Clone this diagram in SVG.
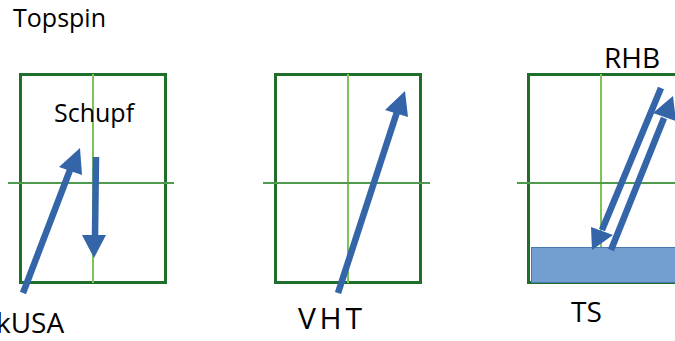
<svg xmlns="http://www.w3.org/2000/svg" width="675" height="341" viewBox="0 0 675 341">
<style>
.tbl{fill:none;stroke:#1f6e2a;stroke-width:3}
.vl{stroke:#7cc45a;stroke-width:2}
.hl{stroke:#4f9a4f;stroke-width:2}
.arr{fill:none;stroke:#3465a8;stroke-width:6.5}
.head{fill:#3465a8}
text{font-family:"Open Sans","Noto Sans",sans-serif;fill:#000}
</style>
<rect width="675" height="341" fill="#fff"/>
<g id="table1">
<rect class="tbl" x="20.5" y="74.5" width="145" height="208"/>
<line class="vl" x1="93" y1="74" x2="93" y2="283"/>
<line class="hl" x1="8" y1="183" x2="174" y2="183"/>
</g>
<g id="table2">
<rect class="tbl" x="275.5" y="74.5" width="145" height="208"/>
<line class="vl" x1="348" y1="74" x2="348" y2="283"/>
<line class="hl" x1="263" y1="183" x2="430" y2="183"/>
</g>
<g id="table3">
<rect class="tbl" x="528.5" y="74.5" width="160" height="208"/>
<line class="vl" x1="601" y1="74" x2="601" y2="283"/>
<line class="hl" x1="517" y1="183" x2="675" y2="183"/>
<rect id="ts-zone" x="531.5" y="247.5" width="150" height="35" fill="#729fcf" stroke="#4a78b0" stroke-width="1"/>
</g>
<g id="connectors">
<line class="arr" x1="23" y1="293" x2="70" y2="170"/>
<polygon class="head" points="80,148 59,167 82,175"/>
<line class="arr" x1="96" y1="157" x2="95" y2="236"/>
<polygon class="head" points="94,258 82,235 106,235"/>
<line class="arr" x1="338" y1="293" x2="397" y2="112"/>
<polygon class="head" points="405,91 385,110 408,117"/>
<line class="arr" x1="661" y1="88" x2="602" y2="230"/>
<polygon class="head" points="592,250 591,227 613,235"/>
<line class="arr" x1="611" y1="250" x2="664" y2="118"/>
<polygon class="head" points="673,96 653,113 676,121"/>
</g>
<g id="labels">
<text x="13" y="27" font-size="25" textLength="93" lengthAdjust="spacing">Topspin</text>
<text x="54" y="122" font-size="25">Schupf</text>
<text x="-4" y="333" font-size="28">kUSA</text>
<text x="298" y="329" font-size="30" textLength="64" lengthAdjust="spacing">VHT</text>
<text x="604" y="68" font-size="28">RHB</text>
<text x="571" y="322" font-size="28">TS</text>
</g>
</svg>
